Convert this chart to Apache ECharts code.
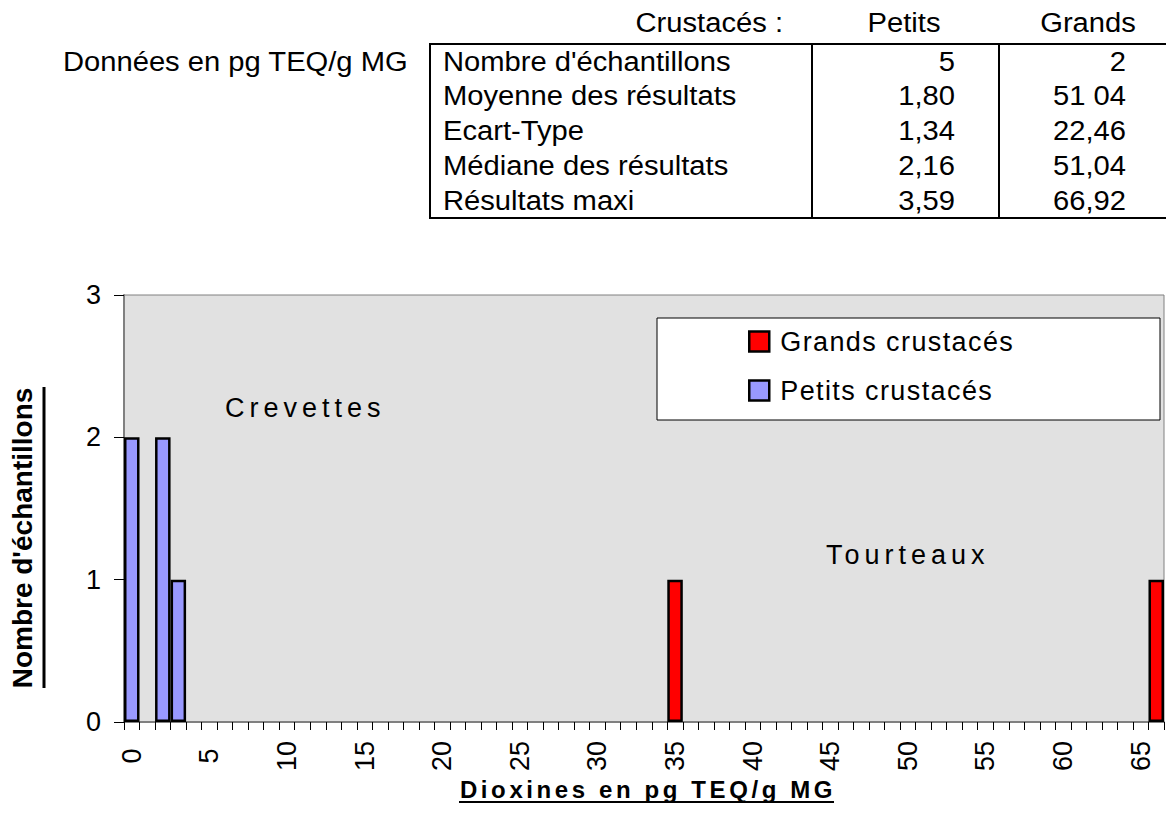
<!DOCTYPE html>
<html>
<head>
<meta charset="utf-8">
<script src="https://cdn.jsdelivr.net/npm/echarts@6/dist/echarts.min.js"></script>
<style>
  html, body { margin: 0; padding: 0; background: #fff; }
  #chart { width: 1166px; height: 829px; }
</style>
</head>
<body>
<div id="chart"></div>
<script>
// histogram bins: 1 pg TEQ/g MG wide, 0..66
const binCount = 67;
const tickLabelStep = 5;

// petits crustacés (crevettes)
const petitsBins = [0, 2, 3];
const petitsCounts = [2, 2, 1];

// grands crustacés (tourteaux)
const grandsBins = [35, 66];
const grandsCounts = [1, 1];

const yTicks = [0, 1, 2, 3];

// summary table
const tableHeader = ["Crustacés :", "Petits", "Grands"];
const tableRows = [
  "Nombre d'échantillons",
  "Moyenne des résultats",
  "Ecart-Type",
  "Médiane des résultats",
  "Résultats maxi",
];
const petitsStats = ["5", "1,80", "1,34", "2,16", "3,59"];
const grandsStats = ["2", "51 04", "22,46", "51,04", "66,92"];

const FONT = "'Liberation Sans', Arial, sans-serif";
const STRETCH = 1.08; // the original sheet is a bit wider than tall

// texts drawn with extra letter spacing in the original
const spacedTexts = {
  "Grands crustacés": 1.4,
  "Petits crustacés": 1.4,
  Crevettes: 5,
  Tourteaux: 5,
  "Dioxines en pg TEQ/g MG": 3.6,
};

const categories = [];
for (let i = 0; i < binCount; i++) categories.push(String(i));

const petitsData = petitsBins.map((b, i) => [b, petitsCounts[i]]);
const grandsData = grandsBins.map((b, i) => [b, grandsCounts[i]]);

const chart = echarts.init(document.getElementById("chart"), null, {
  renderer: "svg",
});

// table graphic
const tableTop = 44;
const rowH = 34.8;
const tableLeft = 430;
const col1 = 812;
const col2 = 999;
const tableRight = 1166;
const tableBottom = tableTop + rowH * tableRows.length;

function label(text, x, y, align, size, weight, stretch) {
  return {
    type: "text",
    x: x,
    y: y,
    scaleX: stretch || 1,
    style: {
      text: text,
      fill: "#000",
      font: `${weight || "normal"} ${size || 27}px ${FONT}`,
      align: align || "left",
      verticalAlign: "middle",
    },
  };
}

const tableGraphic = [
  {
    type: "polyline",
    shape: {
      points: [
        [tableRight, tableTop],
        [tableLeft, tableTop],
        [tableLeft, tableBottom],
        [tableRight, tableBottom],
      ],
    },
    style: { stroke: "#000", lineWidth: 2, fill: null },
  },
  {
    type: "line",
    shape: { x1: col1, y1: tableTop, x2: col1, y2: tableBottom },
    style: { stroke: "#000", lineWidth: 2 },
  },
  {
    type: "line",
    shape: { x1: col2, y1: tableTop, x2: col2, y2: tableBottom },
    style: { stroke: "#000", lineWidth: 2 },
  },
  label("Données en pg TEQ/g MG", 63, 62, "left", 27, null, STRETCH),
  label(tableHeader[0], 783, 23, "right", 27, null, STRETCH),
  label(tableHeader[1], 904, 23, "center", 27, null, STRETCH),
  label(tableHeader[2], 1088, 23, "center", 27, null, STRETCH),
];
tableRows.forEach((name, i) => {
  const y = tableTop + rowH * (i + 0.5);
  tableGraphic.push(label(name, 443, y, "left", 27, null, STRETCH));
  tableGraphic.push(label(petitsStats[i], 955, y, "right", 27, null, STRETCH));
  tableGraphic.push(label(grandsStats[i], 1126, y, "right", 27, null, STRETCH));
});

const option = {
  backgroundColor: "#fff",
  animation: false,
  textStyle: { fontFamily: FONT },
  grid: {
    left: 124,
    right: 2,
    top: 295,
    bottom: 107,
    show: true,
    backgroundColor: "#e1e1e1",
    borderColor: "#808080",
    borderWidth: 1,
  },
  legend: {
    orient: "vertical",
    left: 748,
    top: 328,
    padding: 0,
    itemWidth: 20,
    itemHeight: 20,
    itemGap: 22,
    icon: "rect",
    itemStyle: { borderColor: "#000", borderWidth: 2.5 },
    data: ["Grands crustacés", "Petits crustacés"],
    textStyle: { fontSize: 27, color: "#000", fontFamily: FONT, padding: [0, 0, 0, 6] },
  },
  xAxis: {
    type: "category",
    data: categories,
    boundaryGap: true,
    axisLine: { lineStyle: { color: "#808080", width: 2 } },
    axisTick: {
      show: true,
      interval: 0,
      length: 8,
      lineStyle: { color: "#000", width: 1 },
    },
    axisLabel: {
      interval: tickLabelStep - 1,
      rotate: 90,
      align: "center",
      verticalAlign: "middle",
      margin: 34,
      fontSize: 27,
      color: "#000",
      fontFamily: FONT,
    },
    splitLine: { show: false },
  },
  yAxis: {
    type: "value",
    min: yTicks[0],
    max: yTicks[yTicks.length - 1],
    interval: 1,
    axisLine: { show: true, lineStyle: { color: "#808080", width: 2 } },
    axisTick: { show: true, length: 10, lineStyle: { color: "#000" } },
    axisLabel: { margin: 23, fontSize: 27, color: "#000", fontFamily: FONT },
    splitLine: { show: false },
  },
  series: [
    {
      name: "Grands crustacés",
      type: "bar",
      stack: "n",
      barWidth: "100%",
      data: grandsData,
      itemStyle: { color: "#ff0000", borderColor: "#000", borderWidth: 2.5 },
    },
    {
      name: "Petits crustacés",
      type: "bar",
      stack: "n",
      barWidth: "100%",
      data: petitsData,
      itemStyle: { color: "#9999ff", borderColor: "#000", borderWidth: 2.5 },
    },
  ],
  graphic: [
    // legend frame, drawn beneath the legend items
    {
      type: "rect",
      z: 0,
      shape: { x: 657, y: 318, width: 503, height: 102 },
      style: { fill: "#fff", stroke: "#000", lineWidth: 1 },
    },
    label("Crevettes", 225, 408),
    label("Tourteaux", 826, 555),
    // y axis title
    {
      type: "text",
      x: 22,
      y: 538,
      rotation: Math.PI / 2,
      style: {
        text: "Nombre d'échantillons",
        fill: "#000",
        font: `bold 28px ${FONT}`,
        align: "center",
        verticalAlign: "middle",
      },
    },
    {
      type: "line",
      shape: { x1: 44, y1: 387, x2: 44, y2: 688 },
      style: { stroke: "#000", lineWidth: 3 },
    },
    // x axis title
    label("Dioxines en pg TEQ/g MG", 648, 789, "center", 24, "bold"),
    {
      type: "line",
      shape: { x1: 459, y1: 802, x2: 834, y2: 802 },
      style: { stroke: "#000", lineWidth: 2 },
    },
    ...tableGraphic,
  ],
};

chart.setOption(option);

// zrender has no letter spacing: add it on the svg text nodes once drawn
function applySpacing() {
  document.querySelectorAll("#chart svg text").forEach((el) => {
    const k = spacedTexts[el.textContent];
    if (k) el.setAttribute("letter-spacing", k + "px");
  });
}
chart.on("finished", applySpacing);
applySpacing();
window.addEventListener("resize", () => chart.resize());
</script>
</body>
</html>
